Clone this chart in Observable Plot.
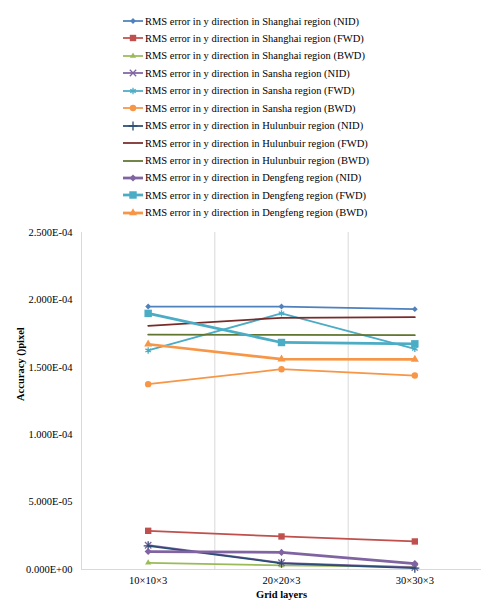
<!DOCTYPE html>
<html>
<head>
<meta charset="utf-8">
<script src="https://cdn.jsdelivr.net/npm/d3@7"></script>
<script src="https://cdn.jsdelivr.net/npm/@observablehq/plot@0.6"></script>
<style>
  body { margin: 0; background: #fff; }
  #chart { position: relative; width: 497px; height: 615px; overflow: hidden;
           font-family: "Liberation Serif", Tinos, "Times New Roman", Times, "DejaVu Serif", serif;
           font-size: 10.5px; color: #000; }
  #legend { position: absolute; left: 122px; top: 12.3px; }
  .row { height: 17.45px; display: flex; align-items: center; white-space: nowrap; }
  .row svg { margin-right: 1px; overflow: visible; }
  #plot { position: absolute; left: 0; top: 222px; }
  #plot svg, #plot svg text { font-family: "Liberation Serif", Tinos, "Times New Roman", Times, "DejaVu Serif", serif; }
</style>
</head>
<body>
<div id="chart"><div id="legend"></div><div id="plot"></div></div>
<script>
// Grid layer configurations on the x axis
const gridLayers = ["10×10×3", "20×20×3", "30×30×3"];

// Legend labels, one per series
const seriesNames = [
  "RMS error in y direction in Shanghai region (NID)",
  "RMS error in y direction in Shanghai region (FWD)",
  "RMS error in y direction in Shanghai region (BWD)",
  "RMS error in y direction in Sansha region (NID)",
  "RMS error in y direction in Sansha region (FWD)",
  "RMS error in y direction in Sansha region (BWD)",
  "RMS error in y direction in Hulunbuir region (NID)",
  "RMS error in y direction in Hulunbuir region (FWD)",
  "RMS error in y direction in Hulunbuir region (BWD)",
  "RMS error in y direction in Dengfeng region (NID)",
  "RMS error in y direction in Dengfeng region (FWD)",
  "RMS error in y direction in Dengfeng region (BWD)"
];

// RMS error (pixel) per grid layer configuration
const shanghaiNID  = [1.951e-4, 1.951e-4, 1.931e-4];
const shanghaiFWD  = [2.87e-5, 2.45e-5, 2.08e-5];
const shanghaiBWD  = [5.0e-6, 3.0e-6, 1.9e-6];
const sanshaNID    = [1.80e-5, 5.0e-6, 1.5e-6];
const sanshaFWD    = [1.625e-4, 1.900e-4, 1.637e-4];
const sanshaBWD    = [1.375e-4, 1.486e-4, 1.439e-4];
const hulunbuirNID = [1.76e-5, 4.6e-6, 1.0e-6];
const hulunbuirFWD = [1.808e-4, 1.867e-4, 1.872e-4];
const hulunbuirBWD = [1.743e-4, 1.741e-4, 1.738e-4];
const dengfengNID  = [1.33e-5, 1.27e-5, 4.4e-6];
const dengfengFWD  = [1.900e-4, 1.684e-4, 1.674e-4];
const dengfengBWD  = [1.671e-4, 1.560e-4, 1.558e-4];

// Y axis tick values
const yTicks = [0, 5e-5, 1e-4, 1.5e-4, 2e-4, 2.5e-4];

const seriesValues = [
  shanghaiNID, shanghaiFWD, shanghaiBWD,
  sanshaNID, sanshaFWD, sanshaBWD,
  hulunbuirNID, hulunbuirFWD, hulunbuirBWD,
  dengfengNID, dengfengFWD, dengfengBWD
];

// Line colour, marker symbol, marker radius and line width per series
const seriesStyles = [
  {color: "#4F81BD", symbol: "diamond2", r: 2.6, w: 1.75},
  {color: "#C0504D", symbol: "square",   r: 3.6, w: 1.75},
  {color: "#9BBB59", symbol: "triangle", r: 2.3, w: 1.75},
  {color: "#8064A2", symbol: "times",    r: 3.0, w: 1.75},
  {color: "#4BACC6", symbol: "asterisk", r: 3.0, w: 1.75},
  {color: "#F79646", symbol: "circle",   r: 3.2, w: 1.75},
  {color: "#2C4D75", symbol: "plus",     r: 3.0, w: 1.75},
  {color: "#772C2A", symbol: null,       r: 0,   w: 1.75},
  {color: "#5F7530", symbol: null,       r: 0,   w: 1.75},
  {color: "#8064A2", symbol: "diamond2", r: 3.2, w: 2.75},
  {color: "#4BACC6", symbol: "square",   r: 4.2, w: 2.75},
  {color: "#F79646", symbol: "triangle", r: 3.0, w: 2.75}
];

const fontStack = "'Liberation Serif', Tinos, 'Times New Roman', Times, 'DejaVu Serif', serif";
const strokeSymbols = new Set(["times", "asterisk", "plus"]);
const d3Symbols = {
  diamond2: d3.symbolDiamond2, square: d3.symbolSquare, triangle: d3.symbolTriangle,
  times: d3.symbolTimes, asterisk: d3.symbolAsterisk, circle: d3.symbolCircle, plus: d3.symbolPlus
};

// Scientific notation in the style 2.500E-04
function sci(d) {
  const [m, e] = d.toExponential(3).split("e");
  const sign = e[0] === "-" ? "-" : "+";
  return m + "E" + sign + String(Math.abs(+e)).padStart(2, "0");
}

const series = seriesNames.map((name, k) => ({
  name,
  style: seriesStyles[k],
  rows: gridLayers.map((g, i) => ({i, layer: g, value: seriesValues[k][i]}))
}));

// Legend
const legend = d3.select("#legend");
for (const s of series) {
  const row = legend.append("div").attr("class", "row");
  const svg = row.append("svg").attr("width", 22).attr("height", 12);
  svg.append("line").attr("x1", 1).attr("x2", 21).attr("y1", 6).attr("y2", 6)
    .attr("stroke", s.style.color).attr("stroke-width", s.style.w);
  if (s.style.symbol) {
    const path = d3.symbol().type(d3Symbols[s.style.symbol]).size(Math.PI * s.style.r * s.style.r)();
    const p = svg.append("path").attr("d", path).attr("transform", "translate(11,6)");
    if (strokeSymbols.has(s.style.symbol)) p.attr("fill", "none").attr("stroke", s.style.color).attr("stroke-width", 1.3);
    else p.attr("fill", s.style.color);
  }
  row.append("span").text(s.name);
}

// Chart marks
const marks = [
  Plot.ruleX(d3.range(gridLayers.length).map(i => i - 0.5), {stroke: "#d9d9d9"}),
  Plot.ruleY([0], {stroke: "#d9d9d9"}),
  Plot.axisY({ticks: yTicks, tickFormat: sci, tickSize: 0, tickPadding: 9, label: null}),
  Plot.axisX({ticks: d3.range(gridLayers.length), tickFormat: i => gridLayers[i], tickSize: 0, tickPadding: 7, label: null})
];
for (const s of series) {
  marks.push(Plot.line(s.rows, {x: "i", y: "value", stroke: s.style.color, strokeWidth: s.style.w,
    strokeLinejoin: "round", strokeLinecap: "round"}));
  if (s.style.symbol) {
    const stroked = strokeSymbols.has(s.style.symbol);
    marks.push(Plot.dot(s.rows, {x: "i", y: "value", symbol: () => s.style.symbol, r: s.style.r,
      fill: stroked ? "none" : s.style.color, stroke: stroked ? s.style.color : "none",
      strokeWidth: stroked ? 1.3 : 0}));
  }
}
marks.push(
  Plot.text(["Accuracy ()pixel"], {frameAnchor: "left", dx: -61, rotate: -90, fontWeight: "bold", fontSize: 10.5}),
  Plot.text(["Grid layers"], {frameAnchor: "bottom", dy: 28, fontWeight: "bold", fontSize: 10.5})
);

const chart = Plot.plot({
  width: 497,
  height: 393,
  marginTop: 10,
  marginBottom: 46,
  marginLeft: 81,
  marginRight: 16,
  style: {fontFamily: fontStack, fontSize: "10.5px", color: "#000",
          background: "transparent", overflow: "visible"},
  x: {type: "linear", domain: [-0.5, gridLayers.length - 0.5]},
  y: {domain: [0, 2.5e-4]},
  marks
});
document.getElementById("plot").appendChild(chart);
</script>
</body>
</html>
